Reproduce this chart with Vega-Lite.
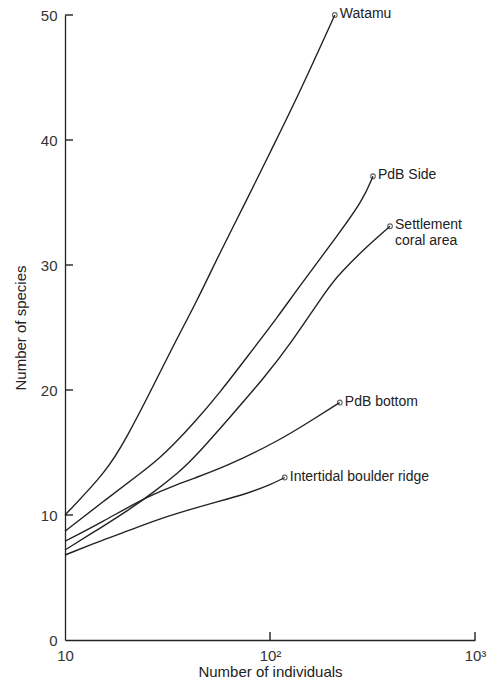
{
  "$schema": "https://vega.github.io/schema/vega-lite/v6.json",
  "width": 410,
  "height": 625,
  "autosize": "none",
  "padding": {"left": 65, "top": 15, "right": 18, "bottom": 45},
  "background": "white",
  "config": {
    "view": {"stroke": null},
    "font": "Liberation Sans",
    "text": {"lineBreak": "\n"}
  },
  "datasets": {
    "curves": [
      {"series": "Watamu", "n": 10, "s": 10},
      {"series": "Watamu", "n": 16, "s": 13.5},
      {"series": "Watamu", "n": 20, "s": 16.2},
      {"series": "Watamu", "n": 26, "s": 19.8},
      {"series": "Watamu", "n": 33.6, "s": 23.5},
      {"series": "Watamu", "n": 44.6, "s": 27.3},
      {"series": "Watamu", "n": 57, "s": 31},
      {"series": "Watamu", "n": 77, "s": 35.2},
      {"series": "Watamu", "n": 100, "s": 39},
      {"series": "Watamu", "n": 135, "s": 43.3},
      {"series": "Watamu", "n": 207, "s": 50},
      {"series": "PdB Side", "n": 10, "s": 8.7},
      {"series": "PdB Side", "n": 15.4, "s": 11.1},
      {"series": "PdB Side", "n": 24.1, "s": 13.5},
      {"series": "PdB Side", "n": 29.1, "s": 14.6},
      {"series": "PdB Side", "n": 33.7, "s": 15.6},
      {"series": "PdB Side", "n": 42.3, "s": 17.3},
      {"series": "PdB Side", "n": 57, "s": 19.8},
      {"series": "PdB Side", "n": 77, "s": 22.6},
      {"series": "PdB Side", "n": 112, "s": 26.1},
      {"series": "PdB Side", "n": 135, "s": 28},
      {"series": "PdB Side", "n": 219, "s": 32.6},
      {"series": "PdB Side", "n": 284, "s": 35.2},
      {"series": "PdB Side", "n": 318, "s": 37.1},
      {"series": "Settlement\ncoral area", "n": 10, "s": 7.2},
      {"series": "Settlement\ncoral area", "n": 15, "s": 9},
      {"series": "Settlement\ncoral area", "n": 20, "s": 10.3},
      {"series": "Settlement\ncoral area", "n": 27, "s": 11.8},
      {"series": "Settlement\ncoral area", "n": 36.4, "s": 13.5},
      {"series": "Settlement\ncoral area", "n": 42.3, "s": 14.5},
      {"series": "Settlement\ncoral area", "n": 66, "s": 18.1},
      {"series": "Settlement\ncoral area", "n": 92.7, "s": 20.9},
      {"series": "Settlement\ncoral area", "n": 125, "s": 23.6},
      {"series": "Settlement\ncoral area", "n": 196, "s": 28.4},
      {"series": "Settlement\ncoral area", "n": 219, "s": 29.3},
      {"series": "Settlement\ncoral area", "n": 284, "s": 31.2},
      {"series": "Settlement\ncoral area", "n": 385, "s": 33.1},
      {"series": "PdB bottom", "n": 10, "s": 7.9},
      {"series": "PdB bottom", "n": 15, "s": 9.4},
      {"series": "PdB bottom", "n": 26, "s": 11.6},
      {"series": "PdB bottom", "n": 36, "s": 12.5},
      {"series": "PdB bottom", "n": 42, "s": 12.9},
      {"series": "PdB bottom", "n": 61.6, "s": 13.9},
      {"series": "PdB bottom", "n": 112, "s": 16},
      {"series": "PdB bottom", "n": 157, "s": 17.5},
      {"series": "PdB bottom", "n": 219, "s": 19},
      {"series": "Intertidal boulder ridge", "n": 10, "s": 6.8},
      {"series": "Intertidal boulder ridge", "n": 15.3, "s": 8},
      {"series": "Intertidal boulder ridge", "n": 20, "s": 8.7},
      {"series": "Intertidal boulder ridge", "n": 29, "s": 9.7},
      {"series": "Intertidal boulder ridge", "n": 40, "s": 10.4},
      {"series": "Intertidal boulder ridge", "n": 51, "s": 10.9},
      {"series": "Intertidal boulder ridge", "n": 77, "s": 11.7},
      {"series": "Intertidal boulder ridge", "n": 100, "s": 12.4},
      {"series": "Intertidal boulder ridge", "n": 118, "s": 13}
    ],
    "yticks": [{"t": 10}, {"t": 20}, {"t": 30}, {"t": 40}, {"t": 50}],
    "xticks": [{"t": 100}, {"t": 1000}]
  },
  "layer": [
    {
      "data": {"name": "curves"},
      "mark": {"type": "line", "interpolate": "basis", "color": "#222", "strokeWidth": 1.4},
      "encoding": {
        "x": {
          "field": "n", "type": "quantitative",
          "scale": {"type": "log", "domain": [10, 1000], "nice": false},
          "axis": {
            "title": "Number of individuals",
            "values": [10, 100, 1000],
            "labelExpr": "datum.value == 10 ? '10' : datum.value == 100 ? '10²' : '10³'",
            "grid": false, "ticks": false,
            "domainColor": "#222", "domainWidth": 1.3,
            "labelPadding": 8, "labelFontSize": 15, "labelColor": "#333",
            "labelFlush": false,
            "titleFontSize": 15, "titleFontWeight": "normal", "titleColor": "#222",
            "titlePadding": 1
          }
        },
        "y": {
          "field": "s", "type": "quantitative",
          "scale": {"domain": [0, 50], "nice": false},
          "axis": {
            "title": "Number of species",
            "values": [0, 10, 20, 30, 40, 50],
            "grid": false, "ticks": false,
            "domainColor": "#222", "domainWidth": 1.3,
            "labelPadding": 8, "labelFontSize": 15, "labelColor": "#333",
            "labelFlush": false,
            "titleFontSize": 15, "titleFontWeight": "normal", "titleColor": "#222",
            "titlePadding": 12
          }
        },
        "detail": {"field": "series"}
      }
    },
    {
      "data": {"name": "yticks"},
      "mark": {"type": "tick", "orient": "horizontal", "color": "#222", "opacity": 1, "size": 8, "thickness": 1.4, "xOffset": 4},
      "encoding": {
        "x": {"datum": 10, "type": "quantitative"},
        "y": {"field": "t", "type": "quantitative"}
      }
    },
    {
      "data": {"name": "xticks"},
      "mark": {"type": "tick", "orient": "vertical", "color": "#222", "opacity": 1, "size": 8, "thickness": 1.4, "yOffset": -4},
      "encoding": {
        "x": {"field": "t", "type": "quantitative"},
        "y": {"datum": 0, "type": "quantitative"}
      }
    },
    {
      "data": {"name": "curves"},
      "transform": [
        {"joinaggregate": [{"op": "max", "field": "n", "as": "maxn"}], "groupby": ["series"]},
        {"filter": "datum.n == datum.maxn"}
      ],
      "encoding": {
        "x": {"field": "n", "type": "quantitative"},
        "y": {"field": "s", "type": "quantitative"}
      },
      "layer": [
        {
          "mark": {"type": "point", "filled": false, "color": "#222", "size": 22, "strokeWidth": 1.1}
        },
        {
          "mark": {"type": "text", "align": "left", "baseline": "top", "dx": 5, "dy": -8, "fontSize": 14, "color": "#222"},
          "encoding": {"text": {"field": "series"}}
        }
      ]
    }
  ]
}
